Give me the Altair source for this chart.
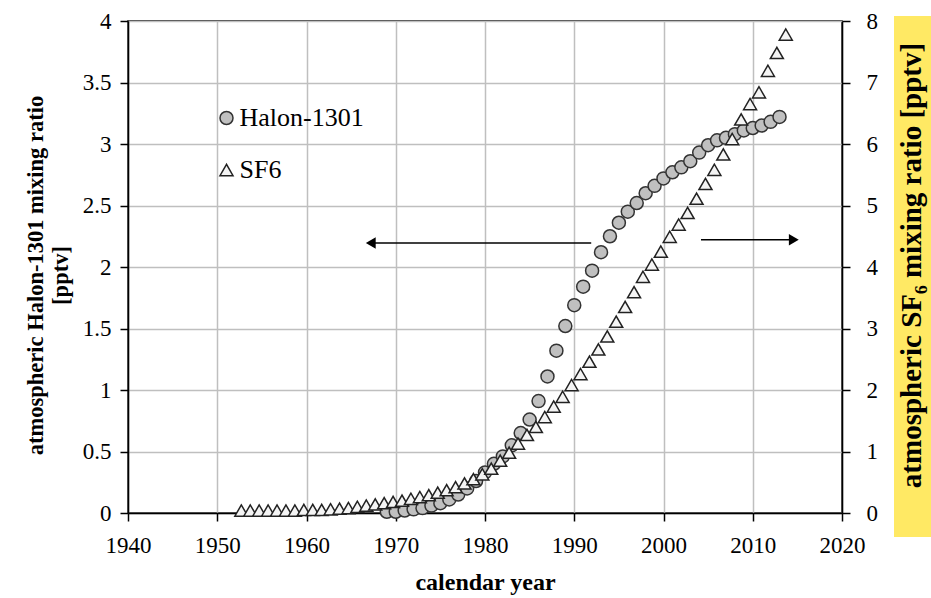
import altair as alt
import pandas as pd

# ---------------- data ----------------
halon_years = [1969, 1970, 1971, 1972, 1973, 1974, 1975, 1976, 1977, 1978,
               1979, 1980, 1981, 1982, 1983, 1984, 1985, 1986, 1987, 1988,
               1989, 1990, 1991, 1992, 1993, 1994, 1995, 1996, 1997, 1998,
               1999, 2000, 2001, 2002, 2003, 2004, 2005, 2006, 2007, 2008,
               2009, 2010, 2011, 2012, 2013]
halon_values = [0.01, 0.01, 0.02, 0.03, 0.04, 0.06, 0.08, 0.11, 0.15, 0.20,
                0.26, 0.33, 0.40, 0.46, 0.55, 0.65, 0.76, 0.91, 1.11, 1.32,
                1.52, 1.69, 1.84, 1.97, 2.12, 2.25, 2.36, 2.45, 2.52, 2.60,
                2.66, 2.72, 2.77, 2.81, 2.86, 2.93, 2.99, 3.03, 3.05, 3.08,
                3.11, 3.13, 3.15, 3.18, 3.22]

sf6_years = [1952.7, 1953.7, 1954.7, 1955.7, 1956.7, 1957.7, 1958.7, 1959.7, 1960.7, 1961.7,
             1962.7, 1963.7, 1964.7, 1965.7, 1966.7, 1967.7, 1968.7, 1969.7, 1970.7, 1971.7,
             1972.7, 1973.7, 1974.7, 1975.7, 1976.7, 1977.7, 1978.7, 1979.7, 1980.7, 1981.7,
             1982.7, 1983.7, 1984.7, 1985.7, 1986.7, 1987.7, 1988.7, 1989.7, 1990.7, 1991.7,
             1992.7, 1993.7, 1994.7, 1995.7, 1996.7, 1997.7, 1998.7, 1999.7, 2000.7, 2001.7,
             2002.7, 2003.7, 2004.7, 2005.7, 2006.7, 2007.7, 2008.7, 2009.7, 2010.7, 2011.7,
             2012.7, 2013.7]
sf6_values = [0.04, 0.04, 0.04, 0.04, 0.04, 0.04, 0.04, 0.05, 0.05, 0.05,
              0.06, 0.07, 0.08, 0.10, 0.12, 0.14, 0.16, 0.18, 0.20, 0.23,
              0.26, 0.29, 0.33, 0.37, 0.42, 0.48, 0.55, 0.63, 0.72, 0.85,
              0.98, 1.13, 1.27, 1.40, 1.56, 1.73, 1.89, 2.08, 2.26, 2.46,
              2.66, 2.87, 3.11, 3.35, 3.59, 3.84, 4.04, 4.25, 4.49, 4.69,
              4.88, 5.11, 5.35, 5.58, 5.83, 6.08, 6.40, 6.65, 6.84, 7.19,
              7.48, 7.78]

series_names = ["Halon-1301", "SF6"]

x_ticks = [1940, 1950, 1960, 1970, 1980, 1990, 2000, 2010, 2020]
left_ticks = [0, 0.5, 1, 1.5, 2, 2.5, 3, 3.5, 4]
right_ticks = [0, 1, 2, 3, 4, 5, 6, 7, 8]

# annotation arrows (year, Halon-scale value)
arrow_start_x = [1991.9, 2004.2]
arrow_end_x = [1967.3, 2014.5]
arrow_y = [2.195, 2.222]
arrow_head_left = {"x": [1967.2], "y": [2.195]}
arrow_head_right = {"x": [2014.6], "y": [2.222]}

# ---------------- frames ----------------
halon_df = pd.DataFrame({"year": halon_years, "value": halon_values,
                         "series": series_names[0]})
sf6_df = pd.DataFrame({"year": sf6_years, "value": sf6_values,
                       "series": series_names[1]})
arrow_df = pd.DataFrame({"x": arrow_start_x, "x2": arrow_end_x, "y": arrow_y})
head_l_df = pd.DataFrame(arrow_head_left)
head_r_df = pd.DataFrame(arrow_head_right)

FONT = "Liberation Serif"

x_scale = alt.Scale(domain=[1940, 2020], nice=False, zero=False)
x_axis = alt.Axis(values=x_ticks, format="d", grid=True, labelPadding=13,
                  labelFlush=False,
                  title="calendar year", titleX=357, titleY=76,
                  titleFontSize=24,
                  titleBaseline="alphabetic", titleAlign="center")
x_enc = alt.X("year:Q", scale=x_scale, axis=x_axis)

left_scale = alt.Scale(domain=[0, 4], nice=False, zero=True)
left_axis = alt.Axis(orient="left", values=left_ticks, format="~g", grid=True,
                     labelPadding=9, labelFlush=False,
                     title=["atmospheric Halon-1301 mixing ratio", "[pptv]"],
                     titleAngle=270, titleX=-86, titleY=254,
                     titleFontSize=22.5,
                     titleBaseline="alphabetic", titleAlign="center",
                     titleLineHeight=25)

right_scale = alt.Scale(domain=[0, 8], nice=False, zero=True)
right_axis = alt.Axis(orient="right", values=right_ticks, format="d", grid=False,
                      labelPadding=16, labelFlush=False,
                      title="atmospheric SF\u2086 mixing ratio [pptv]",
                      titleAngle=270, titleX=78, titleY=244,
                      titleFontSize=29,
                      titleBaseline="alphabetic", titleAlign="center",
                      zindex=1)

legend = alt.Legend(title=None, orient="none", legendX=85.5, legendY=84,
                    labelFont=FONT, labelFontSize=26, labelColor="black",
                    symbolSize=169, symbolStrokeWidth=1.5, rowPadding=26,
                    labelOffset=0, padding=0)
fill_enc = alt.Fill("series:N", scale=alt.Scale(domain=series_names,
                                                range=["#c0c0c0", "#f4f4f4"]),
                    legend=legend)
stroke_enc = alt.Stroke("series:N", scale=alt.Scale(domain=series_names,
                                                    range=["#333333", "#222222"]),
                        legend=legend)
shape_enc = alt.Shape("series:N", scale=alt.Scale(domain=series_names,
                                                  range=["circle", "triangle-up"]),
                      legend=legend)

yellow_box = alt.Chart(alt.Data(values=[{"a": 1}])).mark_rect(
    color="#FFE964").encode(
    x=alt.value(766), x2=alt.value(803), y=alt.value(-5), y2=alt.value(516))

circles = alt.Chart(halon_df).mark_point(
    filled=True, size=169, strokeWidth=1.5, opacity=1
).encode(
    x=x_enc,
    y=alt.Y("value:Q", scale=left_scale, axis=left_axis),
    fill=fill_enc, stroke=stroke_enc, shape=shape_enc)

arrow_lines = alt.Chart(arrow_df).mark_rule(color="black", strokeWidth=1.5).encode(
    x=alt.X("x:Q", scale=x_scale), x2="x2:Q",
    y=alt.Y("y:Q", scale=left_scale))
head_l = alt.Chart(head_l_df).mark_point(
    shape="triangle-left", filled=True, color="black", size=130, opacity=1).encode(
    x=alt.X("x:Q", scale=x_scale), y=alt.Y("y:Q", scale=left_scale))
head_r = alt.Chart(head_r_df).mark_point(
    shape="triangle-right", filled=True, color="black", size=130, opacity=1).encode(
    x=alt.X("x:Q", scale=x_scale), y=alt.Y("y:Q", scale=left_scale))

left_layer = alt.layer(yellow_box, circles, arrow_lines, head_l, head_r)

triangles = alt.Chart(sf6_df).mark_point(
    filled=True, size=169, strokeWidth=1.5, opacity=1
).encode(
    x=x_enc,
    y=alt.Y("value:Q", scale=right_scale, axis=right_axis),
    fill=fill_enc, stroke=stroke_enc, shape=shape_enc)

chart = alt.layer(left_layer, triangles).resolve_scale(
    y="independent"
).properties(
    width=714, height=492,
    autosize=alt.AutoSizeParams(type="none"),
    padding={"left": 128, "top": 21, "right": 89, "bottom": 85},
    background="white",
).configure_view(
    stroke="black", strokeWidth=1.5
).configure_axis(
    labelFont=FONT, titleFont=FONT, labelColor="black", titleColor="black",
    labelFontSize=23, titleFontSize=23, titleFontWeight="bold",
    domainColor="black", domainWidth=1.5, tickColor="black", tickWidth=1.5,
    tickSize=8, gridColor="#bfbfbf", gridWidth=1.5
)

chart.save("out.html", embed_options={"renderer": "svg", "actions": False})
